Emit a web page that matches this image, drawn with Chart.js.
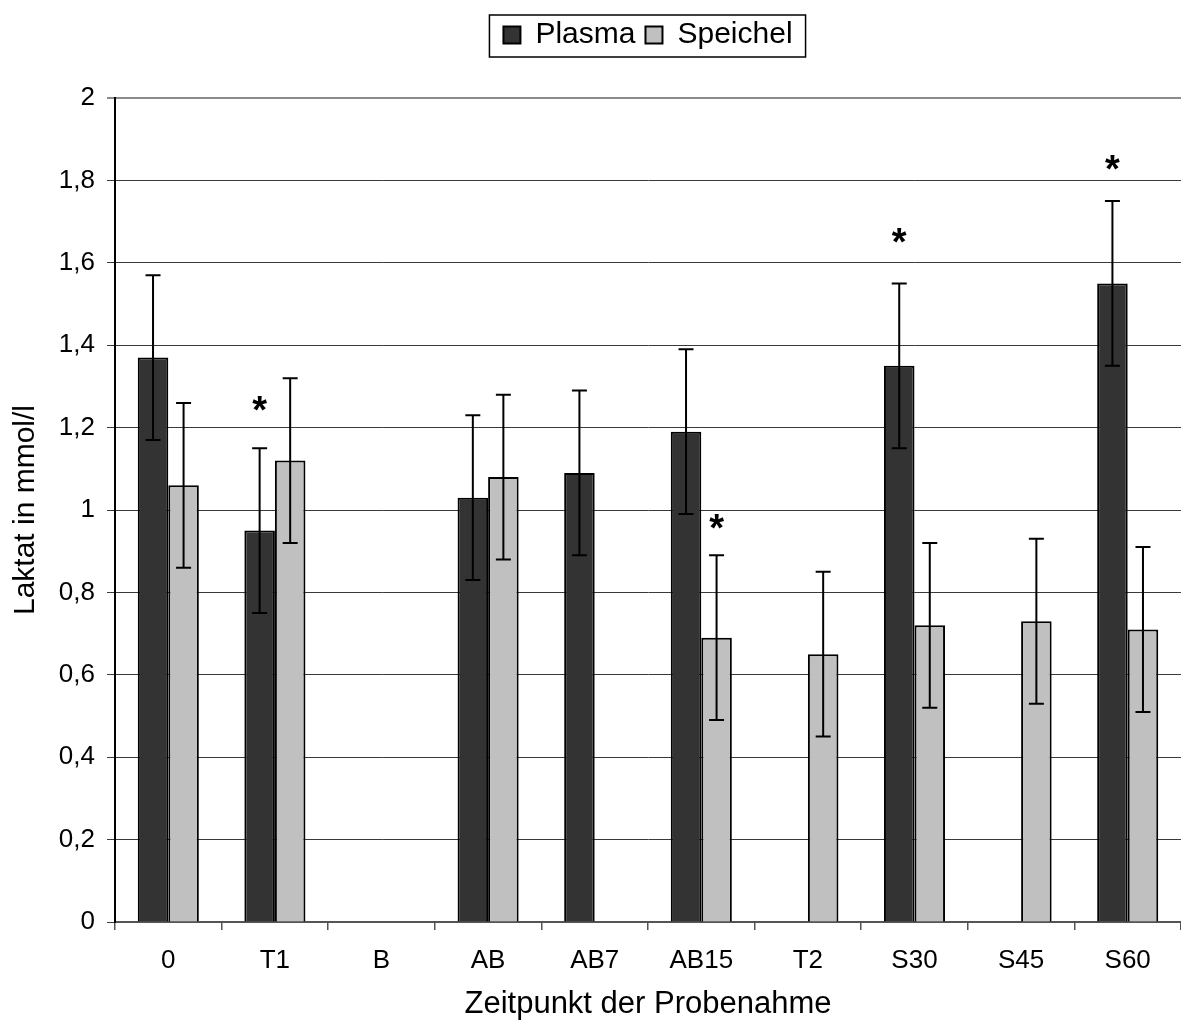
<!DOCTYPE html>
<html>
<head>
<meta charset="utf-8">
<script src="https://cdn.jsdelivr.net/npm/chart.js@4/dist/chart.umd.min.js"></script>
<style>
  html, body { margin: 0; padding: 0; background: #fff; }
  canvas { display: block; }
</style>
</head>
<body>
<canvas id="laktatChart" width="1181" height="1023"></canvas>
<script>
// Laktat in Plasma und Speichel je Zeitpunkt
const kategorien = ['0', 'T1', 'B', 'AB', 'AB7', 'AB15', 'T2', 'S30', 'S45', 'S60'];
const plasma   = [1.37, 0.95, null, 1.03, 1.09, 1.19, null, 1.35, null, 1.55];
const speichel = [1.06, 1.12, null, 1.08, null, 0.69, 0.65, 0.72, 0.73, 0.71];
const plasmaFehler   = [0.2, 0.2, null, 0.2, 0.2, 0.2, null, 0.2, null, 0.2];
const speichelFehler = [0.2, 0.2, null, 0.2, null, 0.2, 0.2, 0.2, 0.2, 0.2];
// Signifikanz-Sterne: [Kategorie, Datensatz (0 = Plasma, 1 = Speichel), Höhe]
const sterne = [['T1', 0, 1.255], ['AB15', 1, 0.97], ['S30', 0, 1.665], ['S60', 0, 1.84]];
const yTicks = [0, 0.2, 0.4, 0.6, 0.8, 1, 1.2, 1.4, 1.6, 1.8, 2];

const schrift = "'Liberation Sans', Arial, sans-serif";
const fehler = [plasmaFehler, speichelFehler];

// Fehlerbalken und Sterne
const fehlerPlugin = {
  id: 'fehlerbalken',
  afterDatasetsDraw(chart) {
    const ctx = chart.ctx;
    const y = chart.scales.y;
    ctx.save();
    ctx.strokeStyle = '#000';
    ctx.lineWidth = 2;
    chart.data.datasets.forEach((ds, di) => {
      const meta = chart.getDatasetMeta(di);
      meta.data.forEach((bar, i) => {
        const v = ds.data[i];
        const e = fehler[di][i];
        if (v == null || e == null) return;
        const yo = y.getPixelForValue(v + e);
        const yu = y.getPixelForValue(v - e);
        ctx.beginPath();
        ctx.moveTo(bar.x, yo); ctx.lineTo(bar.x, yu);
        ctx.moveTo(bar.x - 7.5, yo); ctx.lineTo(bar.x + 7.5, yo);
        ctx.moveTo(bar.x - 7.5, yu); ctx.lineTo(bar.x + 7.5, yu);
        ctx.stroke();
      });
    });
    ctx.fillStyle = '#000';
    ctx.font = 'bold 38px ' + schrift;
    ctx.textAlign = 'center';
    ctx.textBaseline = 'middle';
    sterne.forEach(([kat, di, h]) => {
      const i = kategorien.indexOf(kat);
      const bar = chart.getDatasetMeta(di).data[i];
      ctx.fillText('*', bar.x, y.getPixelForValue(h) + 8);
    });
    ctx.restore();
  }
};

// Rahmen um die Legende und etwas Abstand darunter
const legendenPlugin = {
  id: 'legendenrahmen',
  beforeInit(chart) {
    const fit = chart.legend.fit;
    chart.legend.fit = function () {
      fit.call(this);
      this.height += 38;
    };
  },
  afterDraw(chart) {
    const boxes = chart.legend.legendHitBoxes;
    if (!boxes || !boxes.length) return;
    const first = boxes[0], last = boxes[boxes.length - 1];
    const ctx = chart.ctx;
    ctx.save();
    ctx.strokeStyle = '#000';
    ctx.lineWidth = 1.5;
    ctx.strokeRect(first.left - 14, first.top - 5, last.left + last.width - first.left + 27, first.height + 12);
    ctx.restore();
  }
};

new Chart(document.getElementById('laktatChart').getContext('2d'), {
  type: 'bar',
  data: {
    labels: kategorien,
    datasets: [
      { label: 'Plasma', data: plasma, backgroundColor: '#333333', borderColor: '#000', borderWidth: 2 },
      { label: 'Speichel', data: speichel, backgroundColor: '#c0c0c0', borderColor: '#000', borderWidth: 2 }
    ]
  },
  options: {
    responsive: false,
    animation: false,
    layout: { padding: { top: 10, left: 0, right: 0, bottom: 0 } },
    datasets: { bar: { categoryPercentage: 0.573, barPercentage: 1.0 } },
    plugins: {
      legend: {
        display: true,
        position: 'top',
        fullSize: false,
        labels: { font: { family: schrift, size: 30 }, color: '#000', boxWidth: 17, boxHeight: 17, padding: 10 }
      },
      tooltip: { enabled: false }
    },
    scales: {
      x: {
        grid: { offset: true, drawOnChartArea: false, drawTicks: true, tickLength: 8, color: '#555', lineWidth: 1.5 },
        border: { color: '#555', width: 2 },
        ticks: { font: { family: schrift, size: 26 }, color: '#000', padding: 15 },
        title: { display: true, text: 'Zeitpunkt der Probenahme', font: { family: schrift, size: 31 }, color: '#000', padding: { top: 0, bottom: 0 } },
        afterFit(scale) { scale.height = 101; }
      },
      y: {
        min: 0,
        max: 2,
        afterBuildTicks(scale) { scale.ticks = yTicks.map(v => ({ value: v })); },
        grid: {
          color: c => (c.tick && c.tick.value === 2) ? '#8c8c8c' : '#3a3a3a',
          lineWidth: c => (c.tick && c.tick.value === 2) ? 2 : 1,
          tickLength: 8
        },
        border: { color: '#000', width: 2 },
        ticks: {
          font: { family: schrift, size: 26 },
          color: '#000',
          padding: 12,
          callback: v => String(Number(v.toFixed(1))).replace('.', ',')
        },
        title: { display: true, text: 'Laktat in mmol/l', font: { family: schrift, size: 30 }, color: '#000', padding: { top: 8, bottom: 0 } },
        afterFit(scale) { scale.width = 115; }
      }
    }
  },
  plugins: [fehlerPlugin, legendenPlugin]
});
</script>
</body>
</html>
